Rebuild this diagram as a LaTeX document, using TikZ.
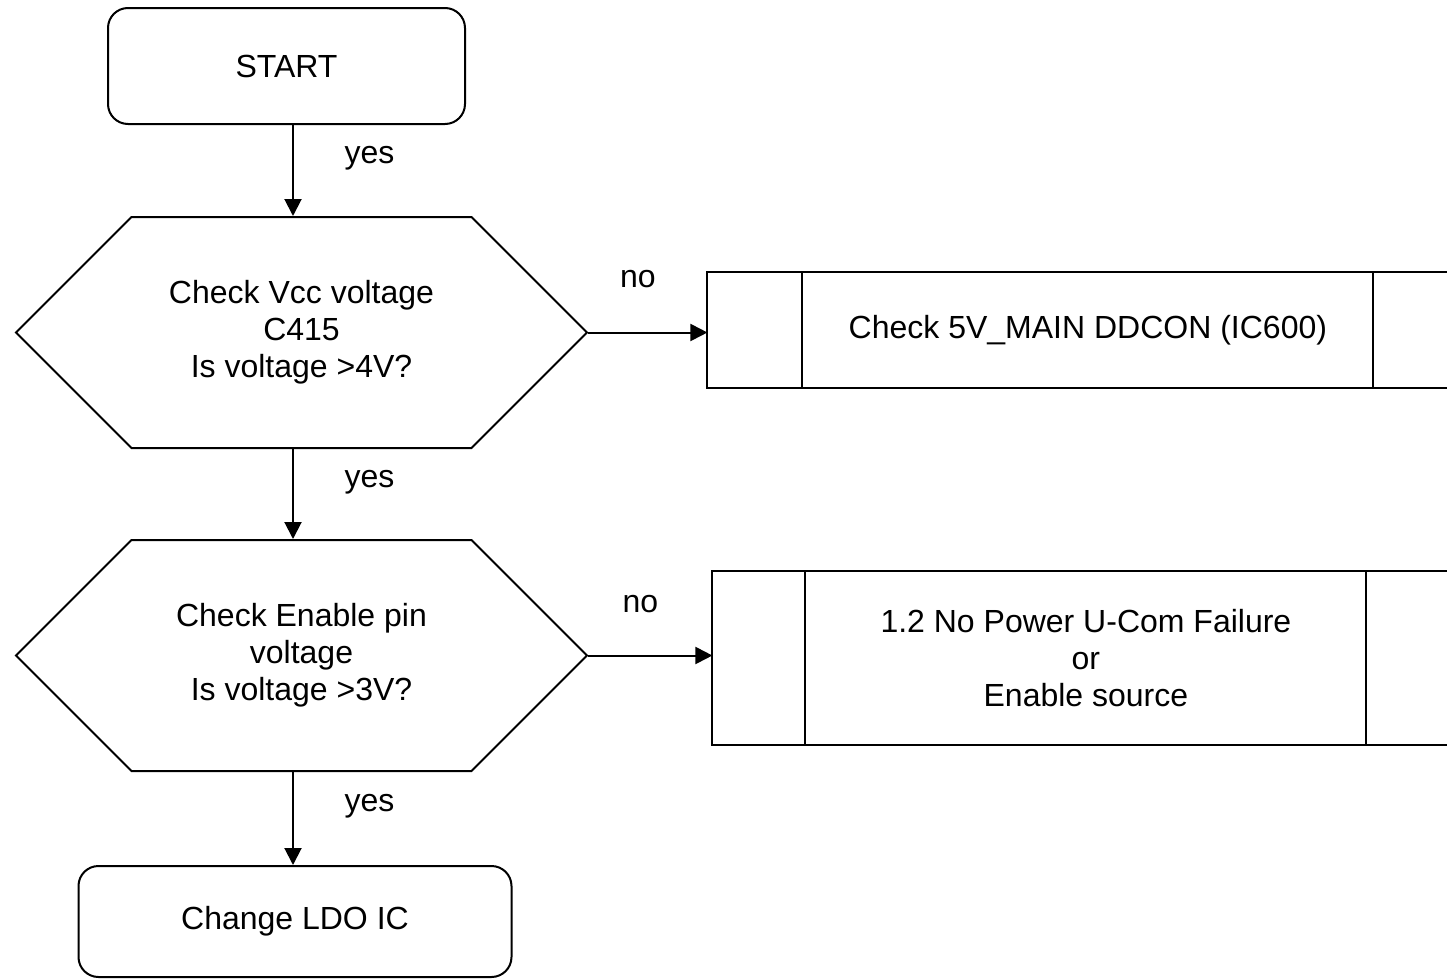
\documentclass[tikz,border=0pt]{standalone}
\usepackage{fontspec}
\setmainfont{Liberation Sans}
\usepackage{tikz}
\usetikzlibrary{shapes.symbols, arrows.meta, positioning}

\begin{document}
\begin{tikzpicture}[
  x=0.5pt, y=-0.5pt,
  font=\fontsize{16pt}{18.5pt}\selectfont,
  line width=1pt,
  termbox/.style={draw, rounded corners=10pt, minimum height=58pt, minimum width=178.5pt,
                  align=center},
  decision/.style={draw, signal, signal to=west and east, signal pointer angle=90,
                   minimum width=285.5pt, minimum height=115.5pt, align=center},
  procbox/.style={draw, minimum width=285.5pt, minimum height=58pt, align=center,
                  outer sep=0pt},
  sidecell/.style={draw, minimum width=47.5pt, minimum height=58pt, outer sep=0pt},
  arrow/.style={-{Triangle[length=8.5pt,width=8.5pt]}},
]
\path[use as bounding box, clip] (0,0) rectangle (1447,980);

% Main column
\node[termbox] (start) at (286.5,66) {START};
\node[decision, below=45.5pt of start, xshift=7.5pt] (vcc)
  {Check Vcc voltage\\C415\\Is voltage >4V?};
\node[decision, below=45pt of vcc] (enable)
  {Check Enable pin\\voltage\\Is voltage >3V?};
\node[termbox, below=46.5pt of enable, xshift=-3.25pt, minimum width=216.5pt,
      minimum height=55.5pt] (ldo) {Change LDO IC};
\coordinate (spine) at (293,0);

% Predefined process boxes
\node[procbox, right=107pt of vcc, yshift=1.25pt] (ddcon)
  {Check 5V\_MAIN DDCON (IC600)};
\node[sidecell, left=0pt of ddcon]  (ddconL) {};
\node[sidecell, right=0pt of ddcon] (ddconR) {};

\node[procbox, right=108.5pt of enable, yshift=-1.25pt, minimum width=280.5pt,
      minimum height=87pt] (ucom)
  {1.2 No Power U-Com Failure\\or\\Enable source};
\node[sidecell, left=0pt of ucom, minimum width=46.5pt, minimum height=87pt]  (ucomL) {};
\node[sidecell, right=0pt of ucom, minimum width=46.5pt, minimum height=87pt] (ucomR) {};

% Arrows
\draw[arrow] (start.south -| spine) -- node[midway, right=22pt, yshift=6pt] {yes}
  (vcc.north -| spine);
\draw[arrow] (vcc.south -| spine) -- node[midway, right=22pt, yshift=6pt] {yes}
  (enable.north -| spine);
\draw[arrow] (enable.south -| spine) -- node[midway, right=22pt, yshift=6pt] {yes}
  (ldo.north -| spine);
\draw[arrow] (vcc.east) -- node[midway, above=18.5pt, xshift=-5pt] {no}
  (vcc.east -| ddconL.west);
\draw[arrow] (enable.east) -- node[midway, above=17.5pt, xshift=-5pt] {no}
  (enable.east -| ucomL.west);
\end{tikzpicture}
\end{document}
